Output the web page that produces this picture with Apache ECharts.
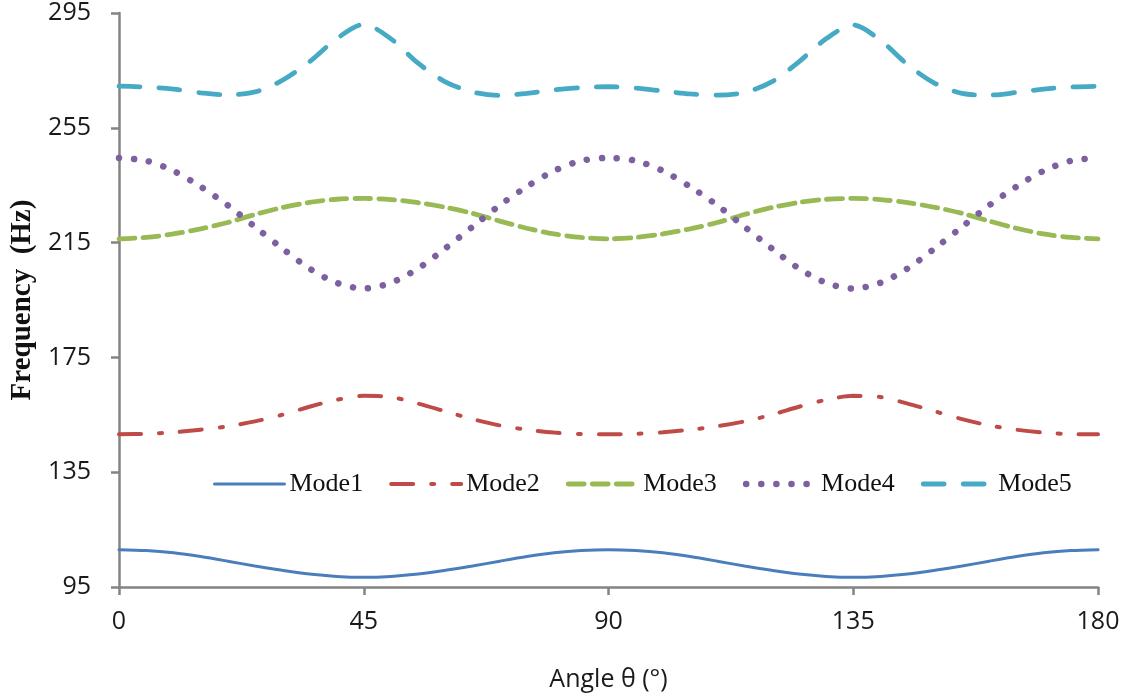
<!DOCTYPE html>
<html>
<head>
<meta charset="utf-8">
<script src="https://cdn.jsdelivr.net/npm/echarts@6/dist/echarts.min.js"></script>
<style>
  html, body { margin: 0; padding: 0; background: #ffffff; }
  #chart { width: 1126px; height: 698px; }
</style>
</head>
<body>
<div id="chart"></div>
<script>
// Angle θ in degrees
const angles = [0,5,10,15,20,25,30,35,40,45,50,55,60,65,70,75,80,85,90,
  95,100,105,110,115,120,125,130,135,140,145,150,155,160,165,170,175,180];

// Natural frequencies (Hz) for each mode
const mode1 = [108.0,107.7,106.9,105.6,104.0,102.3,100.8,99.5,98.7,98.4,98.7,99.5,100.8,102.3,104.0,105.6,106.9,107.7,108.0,
  107.7,106.9,105.6,104.0,102.3,100.8,99.5,98.7,98.4,98.7,99.5,100.8,102.3,104.0,105.6,106.9,107.7,108.0];
const mode2 = [148.2,148.4,148.9,149.8,151.0,152.7,155.0,157.8,160.2,161.6,161.2,158.9,156.2,153.5,151.3,149.8,148.8,148.3,148.2,
  148.4,148.9,149.8,151.0,152.7,155.0,157.8,160.2,161.6,161.2,158.9,156.2,153.5,151.3,149.8,148.8,148.3,148.2];
const mode3 = [216.3,216.8,218.0,219.8,222.0,224.8,227.2,229.0,230.1,230.4,230.0,228.9,227.3,225.2,222.5,220.0,218.0,216.8,216.3,
  216.8,218.0,219.8,222.0,224.8,227.2,229.0,230.1,230.4,230.0,228.9,227.3,225.2,222.5,220.0,218.0,216.8,216.3];
const mode4 = [244.5,243.5,240.0,234.5,228.0,220.5,213.0,206.0,201.0,199.0,201.0,206.0,213.0,220.5,228.0,234.5,240.0,243.5,244.5,
  243.5,240.0,234.5,228.0,220.5,213.0,206.0,201.0,199.0,201.0,206.0,213.0,220.5,228.0,234.5,240.0,243.5,244.5];
const mode5 = [269.5,269.2,268.5,267.2,266.5,267.5,271.5,278.0,286.0,291.0,286.0,277.5,271.0,267.5,266.3,267.0,268.2,269.0,269.3,
  268.8,267.8,266.8,266.4,267.3,271.0,278.0,286.0,290.8,285.5,277.0,270.5,267.0,266.4,267.3,268.5,269.2,269.5];

const seriesNames = ['Mode1', 'Mode2', 'Mode3', 'Mode4', 'Mode5'];
const seriesValues = [mode1, mode2, mode3, mode4, mode5];

const styles = [
  { color: '#4a7ebb', width: 3,   type: 'solid' },
  { color: '#be4b48', width: 4,   type: [22, 18, 3, 18] },
  { color: '#98b954', width: 4.8, type: [16, 8] },
  { color: '#7d60a0', width: 6.5, type: [0.1, 15] },
  { color: '#46aac5', width: 4.8, type: [21, 19] }
];

const axisColor = '#848484';
const labelColor = '#1a1a1a';

const chart = echarts.init(document.getElementById('chart'), null, { renderer: 'canvas' });

chart.setOption({
  backgroundColor: '#ffffff',
  animation: false,
  grid: { left: 119, right: 28, top: 13, bottom: 111, containLabel: false },
  legend: {
    data: seriesNames,
    left: 213,
    top: 471,
    padding: 0,
    itemWidth: 70,
    itemHeight: 14,
    itemGap: 26,
    itemStyle: { opacity: 0 },
    lineStyle: { width: 'inherit', type: 'inherit', cap: 'round' },
    textStyle: { fontFamily: 'Liberation Serif', fontSize: 26, color: '#111111' }
  },
  xAxis: {
    type: 'value',
    min: 0,
    max: 180,
    interval: 45,
    name: 'Angle θ (°)',
    nameLocation: 'middle',
    nameGap: 80,
    nameTextStyle: { fontFamily: 'Open Sans', fontSize: 25, color: labelColor },
    axisLine: { show: true, onZero: false, lineStyle: { color: axisColor, width: 2.5 } },
    axisTick: { show: true, length: 8, lineStyle: { color: axisColor, width: 2.5 } },
    axisLabel: { fontFamily: 'Open Sans', fontSize: 25, color: labelColor, margin: 22 },
    splitLine: { show: false }
  },
  yAxis: {
    type: 'value',
    min: 95,
    max: 295,
    interval: 40,
    name: 'Frequency  (Hz)',
    nameLocation: 'middle',
    nameGap: 80,
    nameTextStyle: { fontFamily: 'Liberation Serif', fontSize: 29, fontWeight: 'bold', color: '#111111' },
    axisLine: { show: true, onZero: false, lineStyle: { color: axisColor, width: 2.5 } },
    axisTick: { show: true, length: 8, lineStyle: { color: axisColor, width: 2.5 } },
    axisLabel: { fontFamily: 'Open Sans', fontSize: 25, color: labelColor, margin: 28 },
    splitLine: { show: false }
  },
  series: seriesNames.map((name, i) => ({
    name: name,
    type: 'line',
    smooth: 0.3,
    symbol: 'none',
    data: angles.map((a, j) => [a, seriesValues[i][j]]),
    itemStyle: { color: styles[i].color },
    lineStyle: {
      color: styles[i].color,
      width: styles[i].width,
      type: styles[i].type,
      cap: 'round'
    },
    z: 2
  }))
});
</script>
</body>
</html>
